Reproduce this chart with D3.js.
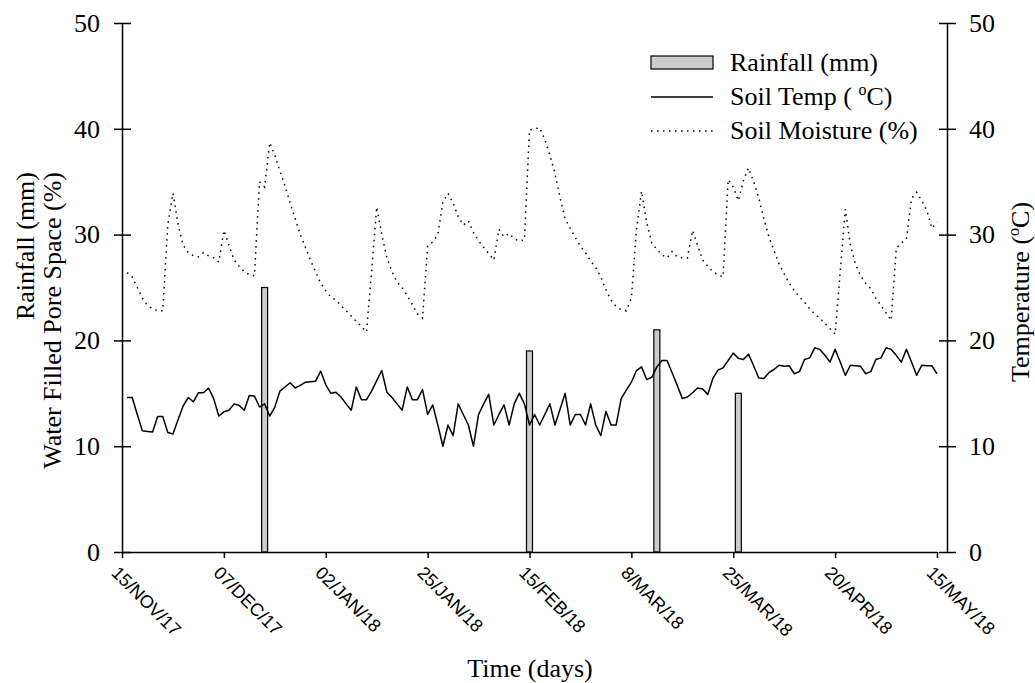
<!DOCTYPE html>
<html>
<head>
<meta charset="UTF-8">
<title>Rainfall, soil temperature and moisture</title>
<script src="https://cdn.jsdelivr.net/npm/d3@7"></script>
<style>
  body { margin: 0; background: #fff; }
  text { font-family: "Liberation Serif", "Times New Roman", serif; fill: #000; }
  .xlab text { font-family: "Liberation Sans", Arial, sans-serif; }
</style>
</head>
<body>
<script>
var w = 1035, h = 683;

// x axis tick labels (one every 20 readings)
var tickLabels = ["15/NOV/17", "07/DEC/17", "02/JAN/18", "25/JAN/18", "15/FEB/18",
                  "8/MAR/18", "25/MAR/18", "20/APR/18", "15/MAY/18"];

// soil temperature (oC), readings 1..160
var soilTemp = [14.6,14.6,13.0,11.45,11.4,11.35,12.8,12.8,11.3,11.15,
  12.5,13.8,14.6,14.2,15.05,15.05,15.5,14.5,12.85,13.25,
  13.4,14.0,13.85,13.4,14.8,14.75,13.7,14.0,12.85,13.7,
  15.2,15.6,16.0,15.5,15.75,16.05,16.1,16.15,17.1,15.8,
  15.0,15.1,14.65,14.0,13.4,15.6,14.4,14.4,15.2,16.2,
  17.15,15.1,14.6,14.0,13.4,15.6,14.4,14.4,15.35,13.0,
  13.9,12.0,10.0,12.0,11.0,14.0,13.0,12.0,10.0,13.0,
  14.0,14.9,12.0,13.0,13.9,12.0,14.0,15.0,14.0,12.0,
  13.0,12.0,13.0,14.0,12.0,13.5,15.0,12.0,13.0,13.0,
  12.0,14.0,12.0,11.0,13.3,12.0,12.0,14.5,15.3,16.05,
  17.15,17.5,16.3,16.5,17.5,18.1,18.1,16.95,15.75,14.5,
  14.65,15.05,15.5,15.4,14.9,16.4,17.2,17.4,18.1,18.8,
  18.3,18.2,18.7,17.6,16.45,16.4,16.95,17.25,17.65,17.55,
  17.6,16.85,17.05,18.2,18.35,19.3,19.15,18.6,17.95,19.15,
  17.95,16.7,17.65,17.6,17.55,16.85,17.05,18.2,18.35,19.3,
  19.15,18.6,17.95,19.15,17.95,16.7,17.65,17.6,17.6,16.85];

// soil moisture, water filled pore space (%), readings 1..160
var soilMoisture = [26.4,26.0,25.0,24.0,23.3,23.0,22.8,22.8,31.0,33.9,
  31.0,29.0,28.3,28.0,27.9,28.3,28.0,27.8,27.4,30.4,
  29.0,27.6,27.0,26.5,26.2,26.1,35.0,34.5,38.7,37.5,
  36.0,34.6,33.0,31.5,30.0,28.8,27.6,26.5,25.4,24.7,
  24.1,23.8,23.3,22.8,22.3,21.8,21.3,20.8,26.5,32.6,
  30.0,27.8,26.5,25.5,25.0,24.2,23.4,22.5,22.1,28.9,
  29.3,30.0,33.1,33.9,33.0,31.7,30.9,31.3,30.2,29.4,
  28.8,28.2,27.6,30.5,29.8,30.1,29.6,29.4,29.5,39.9,
  40.0,40.1,39.0,37.5,35.8,33.5,31.5,30.6,29.7,28.9,
  28.3,27.5,26.9,26.0,24.8,23.8,23.2,22.9,22.8,24.0,
  30.5,34.1,31.2,29.2,28.6,28.1,27.8,28.4,27.9,27.8,
  27.8,30.4,29.0,27.6,27.0,26.5,26.2,26.0,35.2,34.5,
  33.2,35.1,36.3,35.0,33.5,31.5,29.8,28.5,27.2,26.3,
  25.4,24.7,24.1,23.6,23.0,22.5,22.1,21.6,21.1,20.6,
  26.5,32.4,29.0,27.2,26.1,25.4,24.9,24.0,23.3,22.6,
  21.9,28.7,29.2,29.6,33.4,34.0,33.2,32.3,30.6,31.2];

// rainfall events
var rainDay = [28, 80, 105, 121];
var rainfall = [25, 19, 21, 15];

var yTicks = [0, 10, 20, 30, 40, 50];

var svg = d3.select("body").append("svg")
    .attr("width", w)
    .attr("height", h);

var x = d3.scaleLinear().domain([0, 160]).range([122, 937]);
var yL = d3.scaleLinear().domain([0, 50]).range([552, 23]);
var yR = d3.scaleLinear().domain([0, 50]).range([552, 23]);

// rainfall bars
svg.append("g").selectAll("rect")
    .data(rainfall)
    .enter().append("rect")
    .attr("x", function(d, i) { return x(rainDay[i]) - 3; })
    .attr("y", function(d) { return yL(d); })
    .attr("width", 6)
    .attr("height", function(d) { return yL(0) - yL(d); })
    .attr("fill", "#cccccc")
    .attr("stroke", "#000")
    .attr("stroke-width", 1.2);

// lines
var moistLine = d3.line()
    .x(function(d, i) { return x(i + 1); })
    .y(function(d) { return yL(d); });
var tempLine = d3.line()
    .x(function(d, i) { return x(i + 1); })
    .y(function(d) { return yR(d); });

svg.append("path")
    .datum(soilMoisture)
    .attr("d", moistLine)
    .attr("fill", "none")
    .attr("stroke", "#000")
    .attr("stroke-width", 1.5)
    .attr("stroke-dasharray", "1.5,4.5");

svg.append("path")
    .datum(soilTemp)
    .attr("d", tempLine)
    .attr("fill", "none")
    .attr("stroke", "#000")
    .attr("stroke-width", 1.5)
    .attr("stroke-linejoin", "round");

// axes
var gL = svg.append("g")
    .attr("transform", "translate(122,0)")
    .call(d3.axisLeft(yL).tickValues(yTicks).tickSize(8).tickSizeOuter(0).tickPadding(14));
gL.selectAll(".tick line").attr("x1", 9);

var gR = svg.append("g")
    .attr("transform", "translate(947,0)")
    .call(d3.axisRight(yR).tickValues(yTicks).tickSize(9).tickSizeOuter(0).tickPadding(13));
gR.selectAll(".tick line").attr("x1", -8);

var gX = svg.append("g")
    .attr("class", "xlab")
    .attr("transform", "translate(0,552)")
    .call(d3.axisBottom(x).tickValues(d3.range(0, 161, 20)).tickSize(6).tickSizeOuter(0)
        .tickFormat(function(d, i) { return tickLabels[i]; }));
gX.selectAll(".tick text")
    .attr("x", 0).attr("y", 0).attr("dy", 0)
    .attr("text-anchor", "start")
    .attr("transform", "translate(-12,22) rotate(45)")
    .style("font-size", "18px");

[gL, gR, gX].forEach(function(g) {
    g.selectAll(".domain").attr("stroke-width", 1.5);
    g.selectAll(".tick line").attr("stroke-width", 1.5);
});
gL.selectAll(".tick text").style("font-size", "26px");
gR.selectAll(".tick text").style("font-size", "26px");

// axis titles
svg.append("text")
    .attr("transform", "translate(34,172) rotate(-90)")
    .attr("text-anchor", "end")
    .style("font-size", "26px")
    .text("Rainfall (mm)");
svg.append("text")
    .attr("transform", "translate(61,172) rotate(-90)")
    .attr("text-anchor", "end")
    .style("font-size", "26px")
    .text("Water Filled Pore Space (%)");

var tTitle = svg.append("text")
    .attr("transform", "translate(1029,292) rotate(-90)")
    .attr("text-anchor", "middle")
    .style("font-size", "26px");
tTitle.append("tspan").text("Temperature (");
tTitle.append("tspan").attr("dy", -10).style("font-size", "16px").text("o");
tTitle.append("tspan").attr("dy", 10).text("C)");

svg.append("text")
    .attr("x", 530).attr("y", 677)
    .attr("text-anchor", "middle")
    .style("font-size", "26px")
    .text("Time (days)");

// legend
var leg = svg.append("g");
leg.append("rect")
    .attr("x", 651).attr("y", 56).attr("width", 62).attr("height", 13)
    .attr("fill", "#cccccc").attr("stroke", "#000").attr("stroke-width", 1.2);
leg.append("text").attr("x", 730).attr("y", 71).style("font-size", "26px").text("Rainfall (mm)");

leg.append("line")
    .attr("x1", 651).attr("x2", 713).attr("y1", 97).attr("y2", 97)
    .attr("stroke", "#000").attr("stroke-width", 1.5);
var lt = leg.append("text").attr("x", 730).attr("y", 105).style("font-size", "26px");
lt.append("tspan").text("Soil Temp ( ");
lt.append("tspan").attr("dy", -10).style("font-size", "16px").text("o");
lt.append("tspan").attr("dy", 10).text("C)");

leg.append("line")
    .attr("x1", 651).attr("x2", 713).attr("y1", 131).attr("y2", 131)
    .attr("stroke", "#000").attr("stroke-width", 1.5)
    .attr("stroke-dasharray", "1.5,4.5");
leg.append("text").attr("x", 730).attr("y", 139).style("font-size", "26px").text("Soil Moisture (%)");
</script>
</body>
</html>
